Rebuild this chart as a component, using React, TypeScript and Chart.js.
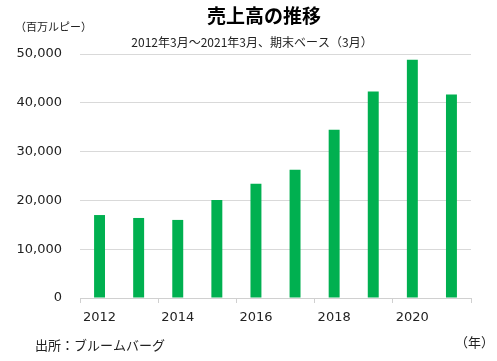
import React, { useEffect, useRef } from "react";
import { Chart, registerables } from "chart.js";

Chart.register(...registerables);

const years = ["2012", "2013", "2014", "2015", "2016", "2017", "2018", "2019", "2020", "2021"];
const sales = [17000, 16400, 16000, 20100, 23400, 26300, 34500, 42300, 48800, 41700];
const yTicks = [0, 10000, 20000, 30000, 40000, 50000];

const titleText = "売上高の推移";
const subtitleText = "2012年3月～2021年3月、期末ベース（3月）";
const unitText = "（百万ルピー）";
const sourceText = "出所：ブルームバーグ";
const xUnitText = "（年）";

const JP = '"Noto Sans CJK JP", "Noto Sans", sans-serif';
const NUM = '"DejaVu Sans", Verdana, sans-serif';

export default function App() {
  const ref = useRef<HTMLCanvasElement | null>(null);

  useEffect(() => {
    document.body.style.margin = "0";
    const canvas = ref.current;
    if (!canvas) return;

    const textPlugin = {
      id: "texts",
      afterDraw(chart: any) {
        const ctx = chart.ctx;
        ctx.save();
        ctx.fillStyle = "#000";
        ctx.textBaseline = "middle";
        ctx.textAlign = "center";
        ctx.font = `bold 19px ${JP}`;
        ctx.fillText(titleText, 264, 16);
        ctx.font = `12px ${JP}`;
        ctx.fillStyle = "#222";
        ctx.fillText(subtitleText, 252, 42);
        ctx.textAlign = "left";
        ctx.font = `11px ${JP}`;
        ctx.fillText(unitText, 15, 27);
        ctx.font = `13px ${JP}`;
        ctx.fillText(sourceText, 35, 345);
        ctx.textAlign = "right";
        ctx.fillText(xUnitText, 494, 342);
        ctx.restore();
      },
    };

    const chart = new Chart(canvas, {
      type: "bar",
      data: {
        labels: years,
        datasets: [
          {
            data: sales,
            backgroundColor: "#00B050",
            borderWidth: 0,
            barPercentage: 0.28,
            categoryPercentage: 1,
          },
        ],
      },
      options: {
        responsive: false,
        animation: false,
        layout: { padding: { top: 54, right: 26, left: 0, bottom: 0 } },
        plugins: {
          legend: { display: false },
          title: { display: false },
          tooltip: { enabled: false },
        },
        scales: {
          x: {
            offset: true,
            afterFit: (scale: any) => {
              scale.height = 63;
            },
            grid: {
              offset: true,
              drawOnChartArea: false,
              drawTicks: true,
              tickLength: 5,
              color: (c: any) =>
                c.index === undefined || c.index % 2 === 0 ? "#d0d0d0" : "rgba(0,0,0,0)",
            },
            border: { display: true, color: "#d0d0d0" },
            ticks: {
              autoSkip: false,
              maxRotation: 0,
              padding: 7,
              color: "#222",
              font: { family: NUM, size: 13 },
              callback: (_v: any, i: number) => (i % 2 === 0 ? years[i] : ""),
            },
          },
          y: {
            min: yTicks[0],
            max: yTicks[yTicks.length - 1],
            afterFit: (scale: any) => {
              scale.width = 80;
            },
            afterBuildTicks: (scale: any) => {
              scale.ticks = yTicks.map((v) => ({ value: v }));
            },
            grid: { color: "#d9d9d9", drawTicks: false },
            border: { display: false },
            ticks: {
              padding: 18,
              color: "#222",
              font: { family: NUM, size: 13 },
              callback: (v: any) => Number(v).toLocaleString("en-US"),
            },
          },
        },
      },
      plugins: [textPlugin],
    });

    return () => chart.destroy();
  }, []);

  return (
    <div style={{ width: 497, height: 361 }}>
      <canvas ref={ref} width={497} height={361} style={{ display: "block" }} />
    </div>
  );
}
